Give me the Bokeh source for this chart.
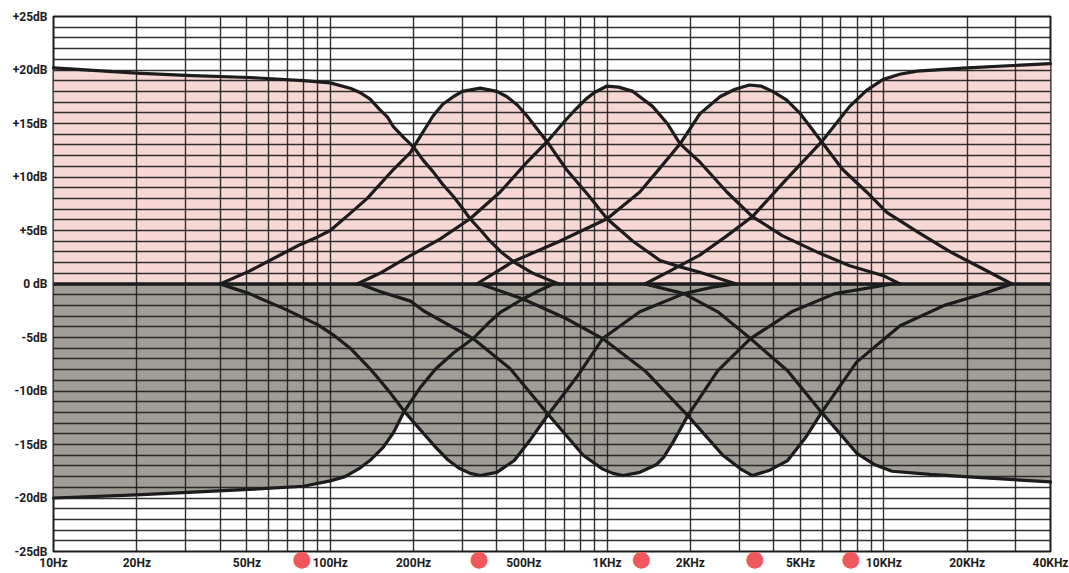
from bokeh.plotting import figure
from bokeh.models import FixedTicker, Span, LogAxis
from bokeh.embed import file_html
from bokeh.resources import INLINE

# ---------------- data ----------------
# boost curves (upper half): frequency in Hz, gain in dB
low_shelf_boost_hz = [10, 20, 30, 51, 80, 100, 118, 128, 139, 151, 161, 169, 184, 200, 216, 235, 255, 278, 300, 320, 350, 378, 414, 458, 540, 600, 670]
low_shelf_boost_db = [20.2, 19.7, 19.5, 19.3, 19.0, 18.8, 18.3, 17.9, 17.3, 16.3, 15.6, 14.7, 13.7, 12.8, 11.6, 10.5, 9.3, 8.2, 7.1, 6.1, 5.0, 4.0, 3.0, 2.1, 1.0, 0.5, 0.0]

peak1_boost_hz = [40, 51, 68, 78, 90, 100, 118, 136, 169, 195, 200, 235, 255, 278, 300, 348, 400, 435, 475, 514, 607, 713, 862, 1000, 1240, 1554, 1836, 2163, 2557, 2933]
peak1_boost_db = [0.0, 1.2, 2.9, 3.7, 4.4, 5.0, 6.6, 8.0, 10.7, 12.3, 12.8, 15.7, 16.8, 17.5, 18.0, 18.3, 18.0, 17.5, 16.7, 15.7, 13.3, 10.7, 8.2, 6.1, 4.0, 2.2, 1.6, 1.1, 0.5, 0.0]

peak2_boost_hz = [125, 151, 187, 249, 320, 411, 514, 607, 713, 775, 840, 900, 1000, 1100, 1240, 1460, 1650, 1836, 2163, 2708, 3350, 4310, 5720, 7525, 9910, 11440]
peak2_boost_db = [0.0, 1.0, 2.4, 4.2, 6.1, 8.6, 11.4, 13.3, 15.4, 16.4, 17.3, 17.9, 18.5, 18.4, 18.0, 16.6, 15.0, 13.1, 11.4, 8.6, 6.3, 4.5, 3.0, 1.7, 0.8, 0.0]

peak3_boost_hz = [338, 458, 674, 1000, 1313, 1560, 1836, 2163, 2557, 2900, 3268, 3600, 3963, 4450, 4960, 5960, 7100, 8660, 10250, 13180, 17380, 22870, 29000]
peak3_boost_db = [0.0, 2.1, 4.0, 6.1, 8.6, 10.9, 13.1, 15.9, 17.5, 18.2, 18.6, 18.5, 18.0, 17.2, 16.0, 13.3, 10.7, 8.6, 6.7, 4.9, 3.0, 1.4, 0.0]

high_shelf_boost_hz = [1370, 1710, 2163, 2708, 3350, 4450, 5960, 7525, 8660, 9910, 11400, 13180, 20000, 40000]
high_shelf_boost_db = [0.0, 1.3, 2.7, 4.5, 6.3, 9.8, 13.3, 16.6, 18.1, 19.1, 19.6, 19.9, 20.2, 20.6]

# cut curves (lower half)
low_shelf_cut_hz = [10, 20, 51, 80, 100, 113, 128, 139, 155, 169, 185, 211, 241, 280, 328, 378, 414, 497, 560, 638]
low_shelf_cut_db = [-20.0, -19.7, -19.2, -18.9, -18.4, -18.0, -17.2, -16.5, -15.3, -13.9, -11.9, -9.7, -7.9, -6.4, -5.1, -3.5, -2.6, -1.4, -0.7, 0.0]

peak1_cut_hz = [40, 51, 68, 90, 103, 118, 139, 151, 165, 185, 241, 265, 291, 320, 348, 400, 462, 530, 613, 787, 964, 1313, 1895, 2400, 2910]
peak1_cut_db = [0.0, -0.9, -2.3, -3.8, -4.8, -6.0, -7.9, -9.0, -10.2, -11.9, -15.3, -16.4, -17.2, -17.7, -17.9, -17.6, -16.5, -14.5, -12.2, -8.5, -5.1, -2.6, -0.9, -0.3, 0.0]

peak2_cut_hz = [128, 151, 195, 217, 328, 446, 613, 820, 964, 1050, 1142, 1313, 1505, 1600, 1730, 1957, 2513, 3295, 4640, 6650, 10700]
peak2_cut_db = [0.0, -0.7, -1.6, -2.5, -5.1, -7.9, -12.2, -16.0, -17.3, -17.7, -17.9, -17.6, -16.9, -16.2, -14.8, -12.3, -8.1, -5.1, -2.6, -0.9, 0.0]

peak3_cut_hz = [348, 497, 708, 964, 1370, 1957, 2620, 3040, 3350, 3870, 4490, 5200, 5960, 7970, 11440, 16540, 22220, 29000]
peak3_cut_db = [0.0, -1.4, -3.2, -5.1, -8.1, -12.3, -16.0, -17.3, -17.9, -17.4, -16.5, -14.4, -12.0, -7.3, -3.9, -2.0, -1.0, 0.0]

high_shelf_cut_hz = [1370, 1895, 2513, 3295, 4490, 5960, 7970, 9285, 10700, 14700, 19670, 40000]
high_shelf_cut_db = [0.0, -0.9, -2.6, -5.1, -8.1, -12.0, -15.8, -16.9, -17.5, -17.8, -18.0, -18.5]

# control knob markers printed under the frequency axis
knob_hz = [79, 345, 1330, 3420, 7600]

# tick labels
x_ticks = [10, 20, 50, 100, 200, 500, 1000, 2000, 5000, 10000, 20000, 40000]
x_tick_labels = ["10Hz", "20Hz", "50Hz", "100Hz", "200Hz", "500Hz", "1KHz", "2KHz", "5KHz", "10KHz", "20KHz", "40KHz"]
y_ticks = [-25, -20, -15, -10, -5, 0, 5, 10, 15, 20, 25]
y_tick_labels = ["-25dB", "-20dB", "-15dB", "-10dB", "-5dB", "0 dB", "+5dB", "+10dB", "+15dB", "+20dB", "+25dB"]

boost_curves = [
    (low_shelf_boost_hz, low_shelf_boost_db),
    (peak1_boost_hz, peak1_boost_db),
    (peak2_boost_hz, peak2_boost_db),
    (peak3_boost_hz, peak3_boost_db),
    (high_shelf_boost_hz, high_shelf_boost_db),
]
cut_curves = [
    (low_shelf_cut_hz, low_shelf_cut_db),
    (peak1_cut_hz, peak1_cut_db),
    (peak2_cut_hz, peak2_cut_db),
    (peak3_cut_hz, peak3_cut_db),
    (high_shelf_cut_hz, high_shelf_cut_db),
]

# ---------------- figure ----------------
PINK = "#f6d7d3"
GREY = "#a09d96"
INK = "#1c1c1c"
FONT = "Roboto"

p = figure(
    width=1069, height=573,
    x_axis_type="log", x_range=(10, 40000), y_range=(-25, 25),
    output_backend="svg", toolbar_location=None,
    min_border_left=53, min_border_right=19, min_border_top=16, min_border_bottom=18,
    background_fill_color="white", border_fill_color="white",
)
p.outline_line_color = INK
p.outline_line_width = 2

# fills
for hz, db in boost_curves:
    p.varea(x=hz, y1=0, y2=db, fill_color=PINK)
for hz, db in cut_curves:
    p.varea(x=hz, y1=0, y2=db, fill_color=GREY)

# grid (drawn over the fills)
minor = []
for decade in (10, 100, 1000, 10000):
    for k in range(1, 10):
        v = decade * k
        if v <= 40000:
            minor.append(v)
p.xgrid.ticker = FixedTicker(ticks=minor)
p.ygrid.ticker = FixedTicker(ticks=list(range(-25, 26)))
for g in (p.xgrid, p.ygrid):
    g.grid_line_color = INK
    g.grid_line_width = 1.4
    g.grid_line_alpha = 0.9
    g.level = "annotation"

# zero line
p.add_layout(Span(location=0, dimension="width", line_color=INK, line_width=3.5, level="overlay"))

# curves
for hz, db in boost_curves + cut_curves:
    r = p.line(hz, db, line_color=INK, line_width=3.2, line_join="round", line_cap="round")
    r.level = "overlay"

# axes
p.xaxis.ticker = FixedTicker(ticks=x_ticks)
p.xaxis.major_label_overrides = {t: l for t, l in zip(x_ticks, x_tick_labels)}
p.yaxis.ticker = FixedTicker(ticks=y_ticks)
p.yaxis.major_label_overrides = {t: l for t, l in zip(y_ticks, y_tick_labels)}
for ax in (p.xaxis, p.yaxis):
    ax.axis_line_color = None
    ax.major_tick_line_color = None
    ax.minor_tick_line_color = None
    ax.major_tick_out = 0
    ax.major_tick_in = 0
    ax.major_label_text_font = FONT
    ax.major_label_text_font_style = "bold"
    ax.major_label_text_font_size = "12px"
    ax.major_label_text_color = INK
p.xaxis.major_label_standoff = 4
p.yaxis.major_label_standoff = 6

# red knob markers: a second frequency axis whose labels are dots,
# pulled up into the row of the Hz labels
knob_axis = LogAxis(
    ticker=FixedTicker(ticks=knob_hz),
    major_label_overrides={f: "\u25cf" for f in knob_hz},
    axis_line_color=None, major_tick_line_color=None, minor_tick_line_color=None,
    major_tick_out=0, major_tick_in=0,
    major_label_text_font="DejaVu Sans", major_label_text_font_size="22px",
    major_label_text_color="#ef585b", major_label_standoff=-27,
)
p.add_layout(knob_axis, "below")

open("out.html", "w").write(file_html(p, INLINE))
